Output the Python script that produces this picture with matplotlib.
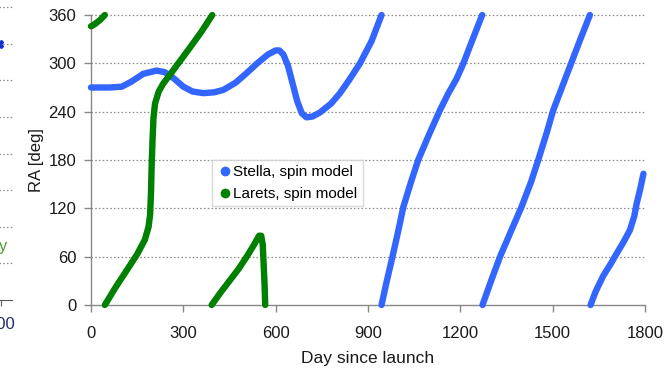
import matplotlib
matplotlib.use("Agg")
import matplotlib.pyplot as plt
from matplotlib.lines import Line2D

plt.rcParams['font.family'] = ['Liberation Sans', 'DejaVu Sans']

# ---- data ----
stella_1_day = [0, 60, 100, 130, 170, 213, 240, 270, 300, 330, 365, 400, 430, 470, 506, 540, 575, 600, 612, 625, 640, 655, 670, 685, 700, 720, 744, 780, 809, 840, 874, 912, 944]
stella_1_ra = [270, 270, 271, 277, 287, 291, 289, 281, 271, 265, 263, 264, 267, 276, 288, 300, 311, 316, 316, 311, 297, 275, 253, 238, 233, 234, 239, 250, 263, 280, 300, 328, 360]
stella_2_day = [944, 960, 982, 1000, 1015, 1040, 1063, 1100, 1134, 1160, 1188, 1210, 1231, 1271]
stella_2_ra = [0, 28, 64, 95, 122, 153, 180, 213, 242, 262, 281, 300, 321, 360]
stella_3_day = [1272, 1300, 1329, 1365, 1399, 1430, 1453, 1480, 1502, 1530, 1556, 1590, 1621]
stella_3_ra = [0, 30, 60, 92, 122, 153, 180, 213, 242, 270, 296, 330, 360]
stella_4_day = [1623, 1640, 1664, 1690, 1708, 1730, 1751, 1765, 1773, 1785, 1795]
stella_4_ra = [0, 17, 36, 52, 64, 78, 93, 110, 126, 145, 163]

larets_1_day = [0, 10, 20, 30, 45]
larets_1_ra = [346, 348, 351, 354, 360]
larets_2_day = [45, 80, 116, 150, 175, 187, 192, 195, 197, 200, 203, 208, 220, 235, 255, 278, 305, 332, 360, 394]
larets_2_ra = [0, 22, 43, 63, 81, 97, 112, 140, 172, 205, 232, 250, 265, 275, 285, 297, 311, 325, 340, 360]
larets_3_day = [392, 420, 452, 480, 506, 530, 546, 553, 558, 561, 564, 566]
larets_3_ra = [0, 15, 31, 45, 60, 75, 86, 86, 75, 50, 25, 0]

x_ticks = [0, 300, 600, 900, 1200, 1500, 1800]
y_ticks = [0, 60, 120, 180, 240, 300, 360]

stella_color = '#3366ff'
larets_color = '#008000'
grid_color = '#888888'
text_color = '#1a1a1a'

W, H = 666, 372
fig = plt.figure(figsize=(W / 100, H / 100), dpi=100)

# ---- main chart ----
ax = fig.add_axes([91 / W, (H - 305) / H, (645 - 91) / W, (305 - 15) / H])
ax.set_xlim(0, 1800)
ax.set_ylim(0, 360)

lw = 4.6
for d, r in [(stella_1_day, stella_1_ra), (stella_2_day, stella_2_ra),
             (stella_3_day, stella_3_ra), (stella_4_day, stella_4_ra)]:
    ax.plot(d, r, color=stella_color, lw=lw, solid_capstyle='round',
            solid_joinstyle='round', clip_on=False, zorder=3)
for d, r in [(larets_1_day, larets_1_ra), (larets_2_day, larets_2_ra),
             (larets_3_day, larets_3_ra)]:
    ax.plot(d, r, color=larets_color, lw=lw, solid_capstyle='round',
            solid_joinstyle='round', clip_on=False, zorder=3)

ax.set_xticks(x_ticks)
ax.set_yticks(y_ticks)
for yv in y_ticks[1:]:
    ax.axhline(yv, color=grid_color, lw=0.9, ls=(0, (1.2, 1.8)), zorder=1, clip_on=False)

for s in ['top', 'right']:
    ax.spines[s].set_visible(False)
for s in ['left', 'bottom']:
    ax.spines[s].set_color(grid_color)
    ax.spines[s].set_linewidth(1.0)
ax.tick_params(axis='both', colors=grid_color, labelcolor=text_color,
               labelsize=12, length=5, width=1.0, direction='out')
ax.tick_params(axis='x', pad=10)
ax.tick_params(axis='y', pad=5.5)
ax.set_xlabel('Day since launch', fontsize=12.5, color=text_color, labelpad=7)
ax.set_ylabel('RA [deg]', fontsize=12, color=text_color, labelpad=3)

handles = [Line2D([], [], marker='o', ls='none', color=stella_color, markersize=6),
           Line2D([], [], marker='o', ls='none', color=larets_color, markersize=6)]
leg = ax.legend(handles, ['Stella, spin model', 'Larets, spin model'],
                loc='upper left',
                bbox_to_anchor=((212 - 91) / (645 - 91), (305 - 160) / (305 - 15)),
                fontsize=11, frameon=True, fancybox=False, borderpad=0.35,
                handletextpad=0.05, handlelength=1.0, labelspacing=0.5,
                borderaxespad=0)
leg.get_frame().set_edgecolor('#d0d0d0')
leg.get_frame().set_linewidth(1.0)
leg.set_zorder(5)

# ---- remnant of a neighbouring chart at the left edge ----
ax2 = fig.add_axes([-333 / W, (H - 300) / H, 345 / W, 293 / H])
ax2.set_xlim(0, 1)
ax2.set_ylim(0, 8)
for yv in range(1, 9):
    ax2.axhline(yv, color=grid_color, lw=0.9, ls=(0, (1.2, 1.8)), clip_on=False)
for s in ['top', 'right', 'left']:
    ax2.spines[s].set_visible(False)
ax2.spines['bottom'].set_color('#555555')
ax2.set_yticks([])
ax2.set_xticks([334 / 345])
ax2.set_xticklabels(['300'])
ax2.tick_params(axis='x', colors='#555555', labelcolor='#1f2a6e',
                labelsize=12, length=4, direction='out', pad=8)
ax2.plot([332 / 345], [7], marker='X', color='#1030d0', markersize=6, clip_on=False)
fig.text(7 / W, (H - 246) / H, 'y', color='#4a9d2a', fontsize=12,
         ha='right', va='center')

fig.savefig('out.png', dpi=100)
